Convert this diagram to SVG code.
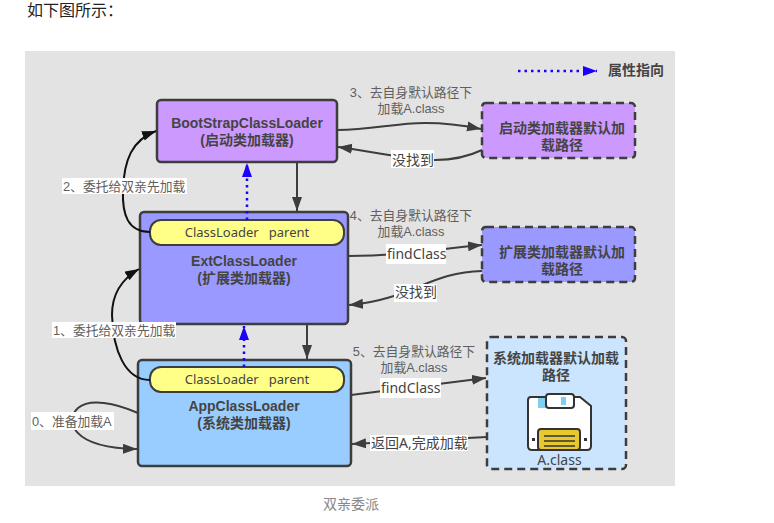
<svg xmlns="http://www.w3.org/2000/svg" width="774" height="523" viewBox="0 0 774 523">
<style>
text{font-family:"Noto Sans","Noto Sans CJK SC",sans-serif;fill:#444}
.b{font-family:"Liberation Sans","Noto Sans CJK SC",sans-serif;font-weight:700;font-size:14px;text-anchor:middle;fill:#444}
.t{font-size:14px}
.l{font-family:"Liberation Sans","Noto Sans CJK SC",sans-serif;font-size:12.800px;fill:#5f5f5f}
.m{text-anchor:middle}
.box{stroke:#3d3d3d;stroke-width:2.5}
.dash{stroke:#3d3d3d;stroke-width:2.5;stroke-dasharray:8 5}
.pill{fill:#ffff88;stroke:#3d3d3d;stroke-width:2}
.c{fill:none;stroke:#3d3d3d;stroke-width:2;marker-end:url(#g)}
.k{fill:none;stroke:#111;stroke-width:2;marker-end:url(#k)}
.d{fill:none;stroke:#1a00ff;stroke-width:2.5;stroke-dasharray:2.5 4;marker-end:url(#d)}
.w{fill:#fff}
</style>
<defs>
<marker id="g" markerWidth="16" markerHeight="12" refX="14" refY="5" orient="auto" markerUnits="userSpaceOnUse"><path d="M0 0L14 5L0 10z" fill="#3d3d3d"/></marker>
<marker id="k" markerWidth="16" markerHeight="12" refX="14" refY="5" orient="auto" markerUnits="userSpaceOnUse"><path d="M0 0L14 5L0 10z" fill="#111"/></marker>
<marker id="d" markerWidth="16" markerHeight="12" refX="14" refY="5" orient="auto" markerUnits="userSpaceOnUse"><path d="M0 0L14 5L0 10z" fill="#1a00ff"/></marker>
</defs>
<rect width="774" height="523" fill="#fff"/>
<text x="27" y="16" font-size="16" style="fill:#222">如下图所示：</text>
<rect x="25" y="51" width="650" height="435" fill="#e3e3e3"/>

<g id="legend"><text x="608" y="75" font-size="14" font-weight="700">属性指向</text></g>

<g id="boot"><rect class="box" x="157" y="100" width="180" height="62" rx="4" fill="#cc99ff"/>
<text class="b" x="247" y="128">BootStrapClassLoader<tspan x="247" dy="17">(启动类加载器)</tspan></text></g>

<g id="ext"><rect class="box" x="140" y="212" width="208" height="112" rx="4" fill="#9999ff"/>
<text class="b" x="244" y="266">ExtClassLoader<tspan x="244" dy="17">(扩展类加载器)</tspan></text></g>
<g id="ext-parent"><rect class="pill" x="150" y="220" width="194" height="25" rx="11"/>
<text x="247" y="237" font-size="13" class="m" xml:space="preserve">ClassLoader   parent</text></g>

<g id="app"><rect class="box" x="138" y="360" width="213" height="106" rx="4" fill="#99ccff"/>
<text class="b" x="244" y="411">AppClassLoader<tspan x="244" dy="17">(系统类加载器)</tspan></text></g>
<g id="app-parent"><rect class="pill" x="150" y="367" width="194" height="25" rx="11"/>
<text x="247" y="384" font-size="13" class="m" xml:space="preserve">ClassLoader   parent</text></g>

<g id="boot-path"><rect class="dash" x="482" y="103" width="153" height="55" rx="4" fill="#cc99ff"/>
<text class="b" x="562" y="133">启动类加载器默认加<tspan x="562" dy="17">载路径</tspan></text></g>

<g id="ext-path"><rect class="dash" x="482" y="227" width="153" height="55" rx="4" fill="#9999ff"/>
<text class="b" x="562" y="257">扩展类加载器默认加<tspan x="562" dy="17">载路径</tspan></text></g>

<g id="app-path"><rect class="dash" x="487" y="337" width="139" height="132" rx="4" fill="#cce5ff"/>
<text class="b" x="556" y="363">系统加载器默认加载<tspan x="556" dy="17">路径</tspan></text>
<path d="M531 397H580L591 406V446Q591 450 587 450H532Q528 450 528 446V400Q528 397 531 397z" fill="#fff" stroke="#333" stroke-width="2"/>
<path d="M538 398H546V408H538z" fill="#7fd0f0"/>
<rect x="546" y="394" width="28" height="14" rx="3" fill="#fff" stroke="#333" stroke-width="2"/>
<rect x="561" y="397" width="5" height="8" fill="#7fd0f0"/>
<rect x="538" y="429" width="42" height="21" rx="3" fill="#e8c82e" stroke="#333" stroke-width="2"/>
<path d="M544 436H575M544 441H575M544 446H575" stroke="#333" stroke-width="1.500"/>
<rect x="532" y="438" width="3" height="3" fill="#333"/><rect x="584" y="438" width="3" height="3" fill="#333"/>
<text x="559.500" y="465" font-size="14" class="m">A.class</text></g>

<g id="connectors">
<path class="k" d="M150 232C128 232 122 215 123 190C124 160 132 140 156 131"/>
<path class="k" d="M150 380C125 380 113 350 112 315C112 295 120 280 139 269"/>
<path class="c" d="M138 413C115 403 90 398 78 408C65 420 70 448 137 449"/>
<path class="d" d="M247 220V163"/>
<path class="d" d="M244 367V326"/>
<path class="c" d="M297 162V211"/>
<path class="c" d="M307 324V359"/>
<path class="c" d="M337 130C390 130 410 115 481 129"/>
<path class="c" d="M482 150C440 170 400 155 338 147"/>
<path class="c" d="M348 256C400 256 430 250 482 245"/>
<path class="c" d="M482 271C430 272 410 300 349 305"/>
<path class="c" d="M351 395L486 378"/>
<path class="c" d="M487 437L352 444"/>
<path class="d" d="M518 71H597"/>
</g>

<g id="labels">
<rect class="w" x="62" y="178" width="125" height="16"/><text class="l" x="63" y="191">2、委托给双亲先加载</text>
<rect class="w" x="52" y="322" width="124" height="16"/><text class="l" x="53" y="335">1、委托给双亲先加载</text>
<rect class="w" x="31" y="412" width="83" height="18"/><text class="l" x="32" y="426">0、准备加载A</text>
<text class="l m" x="411" y="97">3、去自身默认路径下<tspan x="411" dy="16">加载A.class</tspan></text>
<text class="l m" x="411" y="220">4、去自身默认路径下<tspan x="411" dy="16">加载A.class</tspan></text>
<text class="l m" x="414" y="356">5、去自身默认路径下<tspan x="414" dy="16">加载A.class</tspan></text>
<rect class="w" x="391" y="150" width="43" height="18"/><text class="t" x="392" y="165">没找到</text>
<rect class="w" x="394" y="284" width="43" height="18"/><text class="t" x="395" y="297">没找到</text>
<rect class="w" x="386" y="244" width="60" height="20"/><text class="t" x="387" y="259">findClass</text>
<rect class="w" x="380" y="378" width="61" height="20"/><text class="t" x="381" y="393">findClass</text>
<rect class="w" x="370" y="435" width="98" height="16"/><text class="t" x="371" y="448">返回A,完成加载</text>
</g>
<text x="351" y="509" font-size="14" class="m" style="fill:#888">双亲委派</text>
</svg>
